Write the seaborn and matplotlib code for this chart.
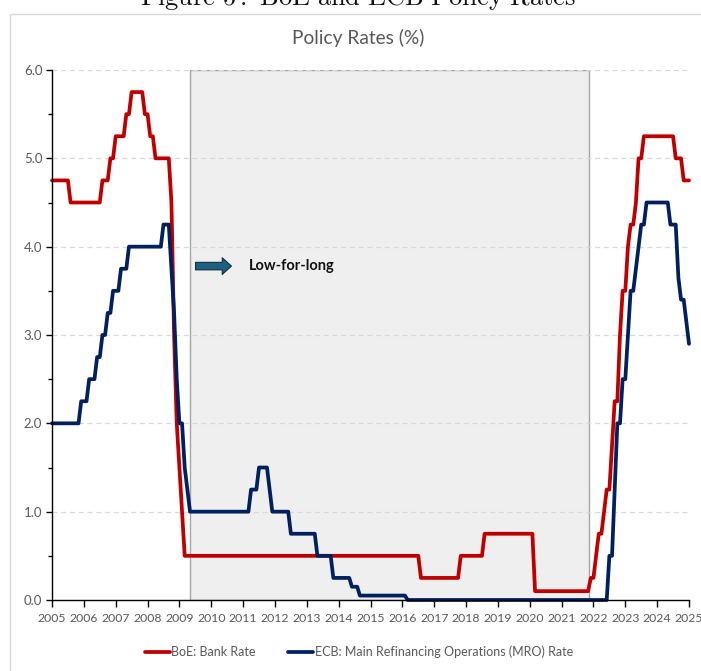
import numpy as np
import pandas as pd
import matplotlib
matplotlib.use("Agg")
import matplotlib.pyplot as plt
from matplotlib.patches import Rectangle
from matplotlib.lines import Line2D
import seaborn as sns

# ---------------- data (monthly, Jan 2005 .. Jan 2025) ----------------
boe_rate = [
    # 2005
    4.75, 4.75, 4.75, 4.75, 4.75, 4.75, 4.75, 4.5, 4.5, 4.5, 4.5, 4.5,
    # 2006
    4.5, 4.5, 4.5, 4.5, 4.5, 4.5, 4.5, 4.75, 4.75, 4.75, 5.0, 5.0,
    # 2007
    5.25, 5.25, 5.25, 5.25, 5.5, 5.5, 5.75, 5.75, 5.75, 5.75, 5.75, 5.5,
    # 2008
    5.5, 5.25, 5.25, 5.0, 5.0, 5.0, 5.0, 5.0, 5.0, 4.5, 3.0, 2.0,
    # 2009
    1.5, 1.0, 0.5, 0.5, 0.5, 0.5, 0.5, 0.5, 0.5, 0.5, 0.5, 0.5,
    # 2010
    0.5, 0.5, 0.5, 0.5, 0.5, 0.5, 0.5, 0.5, 0.5, 0.5, 0.5, 0.5,
    # 2011
    0.5, 0.5, 0.5, 0.5, 0.5, 0.5, 0.5, 0.5, 0.5, 0.5, 0.5, 0.5,
    # 2012
    0.5, 0.5, 0.5, 0.5, 0.5, 0.5, 0.5, 0.5, 0.5, 0.5, 0.5, 0.5,
    # 2013
    0.5, 0.5, 0.5, 0.5, 0.5, 0.5, 0.5, 0.5, 0.5, 0.5, 0.5, 0.5,
    # 2014
    0.5, 0.5, 0.5, 0.5, 0.5, 0.5, 0.5, 0.5, 0.5, 0.5, 0.5, 0.5,
    # 2015
    0.5, 0.5, 0.5, 0.5, 0.5, 0.5, 0.5, 0.5, 0.5, 0.5, 0.5, 0.5,
    # 2016
    0.5, 0.5, 0.5, 0.5, 0.5, 0.5, 0.5, 0.25, 0.25, 0.25, 0.25, 0.25,
    # 2017
    0.25, 0.25, 0.25, 0.25, 0.25, 0.25, 0.25, 0.25, 0.25, 0.25, 0.5, 0.5,
    # 2018
    0.5, 0.5, 0.5, 0.5, 0.5, 0.5, 0.5, 0.75, 0.75, 0.75, 0.75, 0.75,
    # 2019
    0.75, 0.75, 0.75, 0.75, 0.75, 0.75, 0.75, 0.75, 0.75, 0.75, 0.75, 0.75,
    # 2020
    0.75, 0.75, 0.1, 0.1, 0.1, 0.1, 0.1, 0.1, 0.1, 0.1, 0.1, 0.1,
    # 2021
    0.1, 0.1, 0.1, 0.1, 0.1, 0.1, 0.1, 0.1, 0.1, 0.1, 0.1, 0.25,
    # 2022
    0.25, 0.5, 0.75, 0.75, 1.0, 1.25, 1.25, 1.75, 2.25, 2.25, 3.0, 3.5,
    # 2023
    3.5, 4.0, 4.25, 4.25, 4.5, 5.0, 5.0, 5.25, 5.25, 5.25, 5.25, 5.25,
    # 2024
    5.25, 5.25, 5.25, 5.25, 5.25, 5.25, 5.25, 5.0, 5.0, 5.0, 4.75, 4.75,
    # 2025
    4.75,
]

ecb_mro_rate = [
    # 2005
    2.0, 2.0, 2.0, 2.0, 2.0, 2.0, 2.0, 2.0, 2.0, 2.0, 2.0, 2.25,
    # 2006
    2.25, 2.25, 2.5, 2.5, 2.5, 2.75, 2.75, 3.0, 3.0, 3.25, 3.25, 3.5,
    # 2007
    3.5, 3.5, 3.75, 3.75, 3.75, 4.0, 4.0, 4.0, 4.0, 4.0, 4.0, 4.0,
    # 2008
    4.0, 4.0, 4.0, 4.0, 4.0, 4.0, 4.25, 4.25, 4.25, 3.75, 3.25, 2.5,
    # 2009
    2.0, 2.0, 1.5, 1.25, 1.0, 1.0, 1.0, 1.0, 1.0, 1.0, 1.0, 1.0,
    # 2010
    1.0, 1.0, 1.0, 1.0, 1.0, 1.0, 1.0, 1.0, 1.0, 1.0, 1.0, 1.0,
    # 2011
    1.0, 1.0, 1.0, 1.25, 1.25, 1.25, 1.5, 1.5, 1.5, 1.5, 1.25, 1.0,
    # 2012
    1.0, 1.0, 1.0, 1.0, 1.0, 1.0, 0.75, 0.75, 0.75, 0.75, 0.75, 0.75,
    # 2013
    0.75, 0.75, 0.75, 0.75, 0.5, 0.5, 0.5, 0.5, 0.5, 0.5, 0.25, 0.25,
    # 2014
    0.25, 0.25, 0.25, 0.25, 0.25, 0.15, 0.15, 0.15, 0.05, 0.05, 0.05, 0.05,
    # 2015
    0.05, 0.05, 0.05, 0.05, 0.05, 0.05, 0.05, 0.05, 0.05, 0.05, 0.05, 0.05,
    # 2016
    0.05, 0.05, 0.0, 0.0, 0.0, 0.0, 0.0, 0.0, 0.0, 0.0, 0.0, 0.0,
    # 2017
    0.0, 0.0, 0.0, 0.0, 0.0, 0.0, 0.0, 0.0, 0.0, 0.0, 0.0, 0.0,
    # 2018
    0.0, 0.0, 0.0, 0.0, 0.0, 0.0, 0.0, 0.0, 0.0, 0.0, 0.0, 0.0,
    # 2019
    0.0, 0.0, 0.0, 0.0, 0.0, 0.0, 0.0, 0.0, 0.0, 0.0, 0.0, 0.0,
    # 2020
    0.0, 0.0, 0.0, 0.0, 0.0, 0.0, 0.0, 0.0, 0.0, 0.0, 0.0, 0.0,
    # 2021
    0.0, 0.0, 0.0, 0.0, 0.0, 0.0, 0.0, 0.0, 0.0, 0.0, 0.0, 0.0,
    # 2022
    0.0, 0.0, 0.0, 0.0, 0.0, 0.0, 0.5, 0.5, 1.25, 2.0, 2.0, 2.5,
    # 2023
    2.5, 3.0, 3.5, 3.5, 3.75, 4.0, 4.25, 4.25, 4.5, 4.5, 4.5, 4.5,
    # 2024
    4.5, 4.5, 4.5, 4.5, 4.5, 4.25, 4.25, 4.25, 3.65, 3.4, 3.4, 3.15,
    # 2025
    2.9,
]

dates = pd.date_range("2005-01-01", "2025-01-01", freq="MS")
year_ticks = list(range(2005, 2026))
y_ticks = [0.0, 1.0, 2.0, 3.0, 4.0, 5.0, 6.0]
low_for_long_start = 2009.33
low_for_long_end = 2021.86
arrow_level = 3.78

series_names = ["BoE: Bank Rate", "ECB: Main Refinancing Operations (MRO) Rate"]
series_colors = ["#C00000", "#002060"]

# decimal-year x positions from the monthly dates
t = dates.year + (dates.month - 1) / 12.0
df = pd.DataFrame({"t": np.asarray(t, dtype=float),
                   series_names[0]: boe_rate,
                   series_names[1]: ecb_mro_rate})
long_df = df.melt(id_vars="t", var_name="series", value_name="rate")

# ---------------- styling ----------------
sns.set_theme(style="white")
plt.rcParams["font.family"] = ["Lato", "DejaVu Sans"]
plt.rcParams["mathtext.fontset"] = "cm"
grey_text = "#595959"

fig = plt.figure(figsize=(7.01, 6.71), dpi=100)
ax = fig.add_axes([52 / 701, 1 - 600 / 671, (689 - 52) / 701, (600 - 70) / 671])

# outer chart frame (partially cut off in the reference)
fig.patches.append(Rectangle((10 / 701, -0.05), 1.0, 1 - 14 / 671 + 0.05,
                             transform=fig.transFigure, fill=False,
                             edgecolor="#d9d9d9", linewidth=1.0, zorder=0))

# caption at very top (cropped in the reference)
fig.text(358 / 701, 1 - 5 / 671,
         r"$\mathrm{Figure\ 5:\ BoE\ and\ ECB\ Policy\ Rates}$",
         ha="center", va="baseline", fontsize=19, color="#111111")

# chart title
fig.text(358 / 701, 1 - 38 / 671, "Policy Rates (%)", ha="center", va="center",
         fontsize=13.8, color=grey_text)

# shaded low-for-long region
ax.axvspan(low_for_long_start, low_for_long_end, ymin=0, ymax=1,
           facecolor="#EFEFEF", edgecolor="#A6A6A6", linewidth=1.0, zorder=0.1)

sns.lineplot(data=long_df, x="t", y="rate", hue="series",
             palette=dict(zip(series_names, series_colors)),
             linewidth=2.7, ax=ax, legend=False, estimator=None, sort=False)
for ln in ax.get_lines():
    ln.set_clip_on(False)
    ln.set_solid_joinstyle("round")
    ln.set_zorder(3)

# arrow + label
ax.annotate("", xy=(2010.72, arrow_level), xytext=(2009.42, arrow_level),
            arrowprops=dict(arrowstyle="simple,head_length=0.55,head_width=1.0,tail_width=0.45",
                            fc="#1F5F7F", ec="#0E2F40", lw=0.8, mutation_scale=12),
            zorder=4)
ax.text(2011.19, arrow_level, "Low-for-long", ha="left", va="center",
        fontsize=10.5, fontweight="bold", color="#111111", zorder=4)

# axes
ax.set_xlim(2005, 2025)
ax.set_ylim(0, 6)
ax.set_xticks(year_ticks)
ax.set_xticklabels([str(y) for y in year_ticks])
ax.set_yticks(y_ticks)
ax.set_yticklabels([f"{v:.1f}" for v in y_ticks])
ax.set_yticks(np.arange(0.5, 6.0, 1.0), minor=True)
ax.set_xlabel("")
ax.set_ylabel("")
ax.tick_params(axis="x", which="major", direction="out", length=5, width=1,
               color="#000000", labelsize=8.8, labelcolor=grey_text, pad=4, bottom=True)
ax.tick_params(axis="y", which="major", direction="out", length=4, width=1,
               color="#000000", labelsize=9.5, labelcolor=grey_text, pad=3, left=True)
ax.tick_params(axis="y", which="minor", direction="out", length=3, width=1,
               color="#000000", left=True)
ax.set_axisbelow(True)
ax.yaxis.grid(True, which="major", linestyle=(0, (4, 3)), color="#D9D9D9", linewidth=0.9)
ax.xaxis.grid(False)
for side in ["top", "right"]:
    ax.spines[side].set_visible(False)
for side in ["left", "bottom"]:
    ax.spines[side].set_color("#000000")
    ax.spines[side].set_linewidth(1.0)
    ax.spines[side].set_zorder(5)

# legend
handles = [Line2D([0], [0], color=c, lw=2.7) for c in series_colors]
fig.legend(handles, series_names, loc="center", bbox_to_anchor=(359 / 701, 1 - 652 / 671),
           ncol=2, frameon=False, fontsize=9, labelcolor=grey_text,
           handlelength=2.0, handletextpad=0.1, columnspacing=2.6)

fig.savefig("out.png", dpi=100)
